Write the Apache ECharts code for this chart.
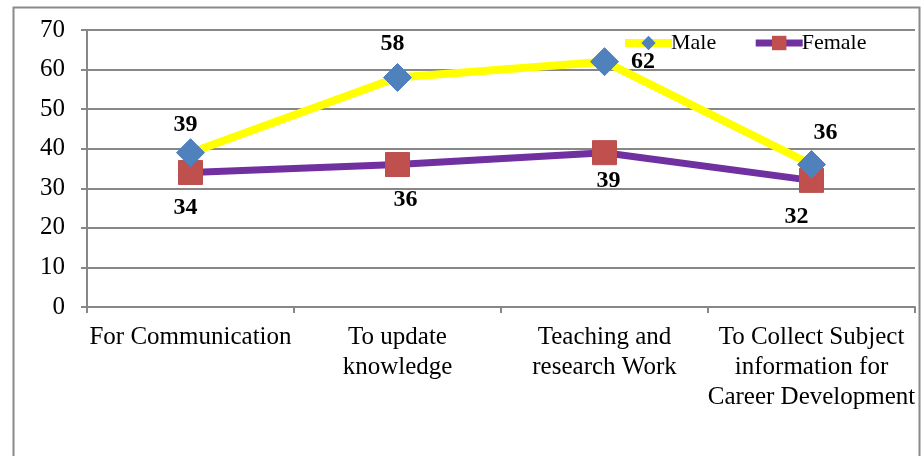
<!DOCTYPE html>
<html>
<head>
<meta charset="utf-8">
<style>
  html, body { margin: 0; padding: 0; background: #fff; }
  #chart { width: 924px; height: 456px; }
</style>
<script src="https://cdn.jsdelivr.net/npm/echarts@6/dist/echarts.min.js"></script>
</head>
<body>
<div id="chart"></div>
<script>
const categories = [
  'For Communication',
  'To update\nknowledge',
  'Teaching and\nresearch Work',
  'To Collect Subject\ninformation for\nCareer Development'
];
const maleValues = [39, 58, 62, 36];
const femaleValues = [34, 36, 39, 32];
const yTicks = [0, 10, 20, 30, 40, 50, 60, 70];

const SERIF = '"Liberation Serif", "Times New Roman", serif';
const GRID_COLOR = '#878787';

// label placement for each point: [position, offsetX, offsetY]
const maleLabelPos = [
  ['top', -5, 9], ['top', -5, 3], ['right', 2, 0], ['top', 14, 5]
];
const femaleLabelPos = [
  ['bottom', -5, 1], ['bottom', 8, 1], ['bottom', 4, -6], ['bottom', -15, 2]
];

function withLabels(values, placements) {
  return values.map((v, i) => ({
    value: v,
    label: {
      position: placements[i][0],
      offset: [placements[i][1], placements[i][2]]
    }
  }));
}

const chart = echarts.init(document.getElementById('chart'), null, { renderer: 'canvas' });

chart.setOption({
  animation: false,
  backgroundColor: '#fff',
  graphic: [{
    type: 'rect',
    left: 11, top: 5,
    shape: { width: 906, height: 470 },
    style: { fill: 'none', stroke: '#8a8a8a', lineWidth: 2 },
    z: -1
  }],
  legend: {
    top: 27,
    left: 616,
    itemWidth: 47,
    itemHeight: 18,
    itemGap: 36,
    textStyle: { fontFamily: SERIF, fontSize: 22, color: '#000', padding: [0, 0, 0, -6] },
    data: [
      { name: 'Male', lineStyle: { width: 8, color: '#FFFF00' } },
      { name: 'Female', lineStyle: { width: 7, color: '#7030A0' } }
    ]
  },
  grid: { left: 87, right: 9, top: 30, bottom: 149, containLabel: false },
  xAxis: {
    type: 'category',
    data: categories,
    boundaryGap: true,
    axisLine: { lineStyle: { color: GRID_COLOR, width: 2 } },
    axisTick: { show: true, length: 6, lineStyle: { color: GRID_COLOR, width: 2 } },
    axisLabel: {
      fontFamily: SERIF, fontSize: 25, color: '#000',
      lineHeight: 30, margin: 15, interval: 0
    }
  },
  yAxis: {
    type: 'value',
    min: yTicks[0],
    max: yTicks[yTicks.length - 1],
    interval: 10,
    axisLine: { show: true, lineStyle: { color: GRID_COLOR, width: 2 } },
    axisTick: { show: true, length: 6, lineStyle: { color: GRID_COLOR, width: 2 } },
    splitLine: { lineStyle: { color: GRID_COLOR, width: 2 } },
    axisLabel: { fontFamily: SERIF, fontSize: 25, color: '#000', margin: 22 }
  },
  series: [
    {
      name: 'Male',
      type: 'line',
      data: withLabels(maleValues, maleLabelPos),
      symbol: 'diamond',
      symbolSize: 28,
      lineStyle: { color: '#FFFF00', width: 8 },
      itemStyle: { color: '#4F81BD', borderColor: '#4F81BD' },
      z: 3,
      label: {
        show: true, distance: 10,
        fontFamily: SERIF, fontSize: 24, fontWeight: 'bold', color: '#000'
      }
    },
    {
      name: 'Female',
      type: 'line',
      data: withLabels(femaleValues, femaleLabelPos),
      symbol: 'rect',
      symbolSize: 24,
      lineStyle: { color: '#7030A0', width: 7 },
      itemStyle: { color: '#C0504D', borderColor: '#B9504D' },
      z: 2,
      label: {
        show: true, distance: 10,
        fontFamily: SERIF, fontSize: 24, fontWeight: 'bold', color: '#000'
      }
    }
  ]
});
</script>
</body>
</html>
